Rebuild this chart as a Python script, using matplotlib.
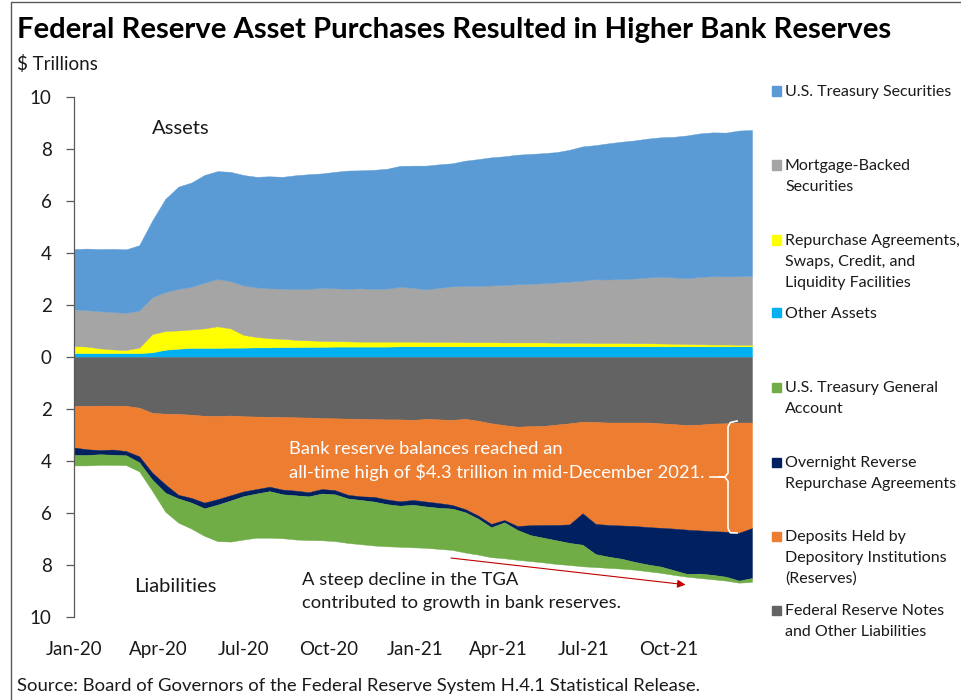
import numpy as np
import pandas as pd
import matplotlib
matplotlib.use("Agg")
from matplotlib import pyplot as plt
from matplotlib.ticker import FuncFormatter
from matplotlib.patches import Rectangle
from matplotlib.lines import Line2D

plt.rcParams['font.family'] = ['Lato', 'DejaVu Sans']

# biweekly H.4.1 readings, $ trillions
dates = pd.date_range('2020-01-01', periods=53, freq='14D')

# assets
other_assets = [0.15, 0.15, 0.15, 0.15, 0.15, 0.15, 0.18, 0.28, 0.32, 0.35,
                0.35, 0.35, 0.36, 0.36, 0.37, 0.37, 0.38, 0.38, 0.39, 0.39,
                0.40, 0.40, 0.40, 0.40, 0.40, 0.41, 0.41, 0.41, 0.41, 0.41,
                0.41, 0.41, 0.41, 0.41, 0.41, 0.41, 0.41, 0.41, 0.41, 0.41,
                0.41, 0.41, 0.41, 0.41, 0.41, 0.41, 0.41, 0.41, 0.41, 0.41,
                0.41, 0.41, 0.41]
repo_facilities = [0.27, 0.25, 0.18, 0.14, 0.12, 0.21, 0.70, 0.72, 0.70, 0.71,
                   0.75, 0.83, 0.74, 0.49, 0.40, 0.35, 0.32, 0.28, 0.25, 0.23,
                   0.21, 0.20, 0.19, 0.19, 0.19, 0.18, 0.18, 0.17, 0.17, 0.17,
                   0.16, 0.16, 0.16, 0.15, 0.15, 0.15, 0.15, 0.14, 0.14, 0.14,
                   0.13, 0.13, 0.13, 0.12, 0.12, 0.11, 0.10, 0.09, 0.08, 0.07,
                   0.07, 0.06, 0.06]
mbs = [1.41, 1.40, 1.43, 1.44, 1.43, 1.43, 1.42, 1.50, 1.60, 1.64,
       1.76, 1.82, 1.82, 1.90, 1.91, 1.92, 1.93, 1.96, 1.98, 2.04,
       2.03, 2.03, 2.05, 2.03, 2.04, 2.11, 2.07, 2.02, 2.08, 2.14,
       2.16, 2.17, 2.18, 2.21, 2.24, 2.25, 2.28, 2.32, 2.35, 2.39,
       2.45, 2.44, 2.46, 2.49, 2.53, 2.57, 2.55, 2.53, 2.59, 2.63,
       2.62, 2.64, 2.65]
treasuries = [2.32, 2.37, 2.39, 2.43, 2.44, 2.51, 2.95, 3.58, 3.93, 4.01,
              4.14, 4.15, 4.20, 4.25, 4.25, 4.31, 4.30, 4.37, 4.41, 4.40,
              4.48, 4.54, 4.54, 4.58, 4.61, 4.65, 4.70, 4.76, 4.75, 4.73,
              4.82, 4.87, 4.93, 4.95, 4.98, 5.00, 5.00, 5.01, 5.07, 5.16,
              5.16, 5.24, 5.28, 5.31, 5.34, 5.36, 5.41, 5.49, 5.52, 5.53,
              5.53, 5.60, 5.61]

# liabilities
fr_notes = [1.88, 1.88, 1.87, 1.87, 1.88, 1.95, 2.15, 2.18, 2.19, 2.22,
            2.26, 2.27, 2.25, 2.28, 2.29, 2.30, 2.31, 2.32, 2.33, 2.35,
            2.36, 2.37, 2.38, 2.39, 2.40, 2.40, 2.42, 2.38, 2.40, 2.42,
            2.38, 2.45, 2.55, 2.62, 2.68, 2.66, 2.65, 2.60, 2.55, 2.49,
            2.50, 2.52, 2.52, 2.52, 2.52, 2.55, 2.58, 2.62, 2.60, 2.56,
            2.55, 2.52, 2.52]
reserves = [1.60, 1.67, 1.71, 1.69, 1.74, 1.87, 2.30, 2.72, 3.11, 3.20,
            3.34, 3.20, 3.07, 2.89, 2.79, 2.69, 2.79, 2.82, 2.87, 2.73,
            2.76, 2.93, 2.98, 2.99, 3.08, 3.15, 3.08, 3.18, 3.22, 3.27,
            3.47, 3.65, 3.87, 3.65, 3.82, 3.81, 3.81, 3.86, 3.89, 3.52,
            3.92, 3.94, 3.96, 3.98, 4.02, 4.02, 4.02, 4.02, 4.07, 4.14,
            4.17, 4.24, 4.06]
on_rrp = [0.29, 0.22, 0.16, 0.20, 0.16, 0.23, 0.27, 0.32, 0.14, 0.18,
          0.22, 0.21, 0.20, 0.18, 0.17, 0.17, 0.18, 0.18, 0.16, 0.17,
          0.16, 0.14, 0.14, 0.18, 0.18, 0.17, 0.18, 0.19, 0.18, 0.14,
          0.12, 0.12, 0.13, 0.09, 0.15, 0.38, 0.49, 0.59, 0.71, 1.21,
          1.16, 1.22, 1.28, 1.38, 1.44, 1.49, 1.60, 1.70, 1.66, 1.68,
          1.73, 1.84, 1.92]
tga = [0.40, 0.40, 0.41, 0.39, 0.38, 0.35, 0.43, 0.73, 0.93, 1.00,
       1.06, 1.40, 1.58, 1.67, 1.70, 1.79, 1.69, 1.70, 1.68, 1.80,
       1.80, 1.71, 1.70, 1.69, 1.62, 1.58, 1.64, 1.59, 1.58, 1.59,
       1.55, 1.38, 1.15, 1.38, 1.15, 1.00, 0.95, 0.91, 0.85, 0.83,
       0.50, 0.43, 0.38, 0.30, 0.26, 0.24, 0.18, 0.11, 0.17, 0.17,
       0.15, 0.08, 0.15]

tick_dates = pd.to_datetime(['2020-01-01', '2020-04-01', '2020-07-01', '2020-10-01',
                             '2021-01-01', '2021-04-01', '2021-07-01', '2021-10-01'])
tick_labels = ['Jan-20', 'Apr-20', 'Jul-20', 'Oct-20', 'Jan-21', 'Apr-21', 'Jul-21', 'Oct-21']

asset_colors = ['#00B0F0', '#FFFF00', '#A5A5A5', '#5B9BD5']
liab_colors = ['#636363', '#ED7D31', '#002060', '#70AD47']

W, H = 961, 700
fig = plt.figure(figsize=(W / 100, H / 100), dpi=100)
ax = fig.add_axes([74 / W, 83 / H, 678 / W, 520 / H])

ax.stackplot(dates, other_assets, repo_facilities, mbs, treasuries,
             colors=asset_colors, linewidth=0.3, edgecolor='face')
neg = lambda s: -np.array(s)
ax.stackplot(dates, neg(fr_notes), neg(reserves), neg(on_rrp), neg(tga),
             colors=liab_colors, linewidth=0.3, edgecolor='face')

ax.set_xlim(dates[0], dates[-1])
ax.set_ylim(-10, 10)
ax.set_yticks(range(-10, 11, 2))
ax.yaxis.set_major_formatter(FuncFormatter(lambda v, p: f"{abs(v):.0f}"))
ax.set_xticks(tick_dates)
ax.set_xticklabels(tick_labels)
for s in ['top', 'right', 'bottom']:
    ax.spines[s].set_visible(False)
ax.spines['left'].set_color('#595959')
ax.spines['left'].set_linewidth(0.9)
ax.tick_params(axis='y', direction='out', length=5.5, width=0.9, color='#595959',
               pad=10.5, labelsize=13.5, labelcolor='#1a1a1a')
ax.tick_params(axis='x', length=0, pad=17, labelsize=13.5, labelcolor='#1a1a1a')

# annotations
ax.text(0.157, 0.940, 'Assets', transform=ax.transAxes, ha='center', va='center',
        fontsize=14.5, color='#1a1a1a')
ax.text(0.150, 0.058, 'Liabilities', transform=ax.transAxes, ha='center', va='center',
        fontsize=14.5, color='#1a1a1a')
ax.text(0.317, 0.300, 'Bank reserve balances reached an\nall-time high of $4.3 trillion in mid-December 2021.',
        transform=ax.transAxes, ha='left', va='center', fontsize=13.2, color='white',
        linespacing=1.5)
ax.text(0.336, 0.049, 'A steep decline in the TGA\ncontributed to growth in bank reserves.',
        transform=ax.transAxes, ha='left', va='center', fontsize=13.2, color='#1a1a1a',
        linespacing=1.5)
ax.annotate('', xy=(0.906, 0.0615), xytext=(0.552, 0.114), xycoords='axes fraction',
            arrowprops=dict(arrowstyle='-|>', color='#C00000', lw=0.8, mutation_scale=12))

# brace beside the reserves band
bx = [0.978, 0.968, 0.9646, 0.9646, 0.960, 0.9528, 0.960, 0.9646, 0.9646, 0.968, 0.978]
by = [0.377, 0.374, 0.366, 0.277, 0.2692, 0.2692, 0.2692, 0.261, 0.170, 0.162, 0.1615]
ax.plot(bx, by, transform=ax.transAxes, color='white', lw=1.2, clip_on=False)
ax.plot([0.938, 0.9528], [0.2692, 0.2692], transform=ax.transAxes, color='white', lw=1.2)

# titles
fig.text(17 / W, 1 - 30 / H, 'Federal Reserve Asset Purchases Resulted in Higher Bank Reserves',
         fontsize=21.1, weight='bold', va='center', color='black')
fig.text(17 / W, 1 - 64 / H, '$ Trillions', fontsize=13.5, va='center', color='#1a1a1a')
fig.text(17 / W, 1 - 686 / H,
         'Source: Board of Governors of the Federal Reserve System H.4.1 Statistical Release.',
         fontsize=13.3, va='center', color='#1a1a1a')

# legend
legend_items = [
    ('U.S. Treasury Securities', '#5B9BD5', 91),
    ('Mortgage-Backed\nSecurities', '#A5A5A5', 165),
    ('Repurchase Agreements,\nSwaps, Credit, and\nLiquidity Facilities', '#FFFF00', 240),
    ('Other Assets', '#00B0F0', 313),
    ('U.S. Treasury General\nAccount', '#70AD47', 387),
    ('Overnight Reverse\nRepurchase Agreements', '#002060', 462),
    ('Deposits Held by\nDepository Institutions\n(Reserves)', '#ED7D31', 536),
    ('Federal Reserve Notes\nand Other Liabilities', '#636363', 610),
]
for label, col, y0 in legend_items:
    fig.patches.append(Rectangle((772 / W, 1 - (y0 + 4.5) / H), 9 / W, 9 / H,
                                 transform=fig.transFigure, color=col))
    for j, line in enumerate(label.split('\n')):
        fig.text(785 / W, 1 - (y0 + 1 + 21 * j) / H, line, fontsize=11.5, va='center',
                 color='#1a1a1a')

# frame (top and left edges)
fig.lines.append(Line2D([11 / W, 11 / W, 1.0], [0.0, 1 - 2 / H, 1 - 2 / H],
                        transform=fig.transFigure, color='#595959', lw=1))

fig.savefig('out.png', dpi=100)
